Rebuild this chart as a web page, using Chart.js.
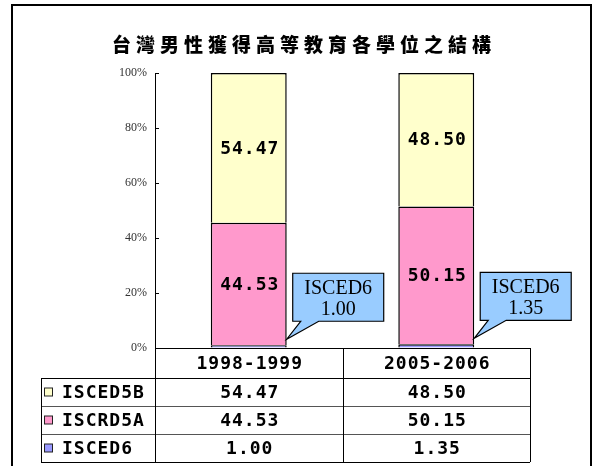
<!DOCTYPE html>
<html>
<head>
<meta charset="utf-8">
<script src="https://cdn.jsdelivr.net/npm/chart.js@4"></script>
<style>
  html, body { margin: 0; padding: 0; background: #fff; }
  #wrap { width: 596px; height: 466px; position: relative; }
</style>
</head>
<body>
<div id="wrap"><canvas id="c" width="596" height="466"></canvas></div>
<script>
// data
const titleText = '台灣男性獲得高等教育各學位之結構';
const categories = ['1998-1999', '2005-2006'];
const isced6 = [1.00, 1.35];
const iscrd5a = [44.53, 50.15];
const isced5b = [54.47, 48.50];
const seriesNames = ['ISCED6', 'ISCRD5A', 'ISCED5B'];
const seriesColors = ['#9999FF', '#FF99CC', '#FFFFCC'];
const calloutLabel = 'ISCED6';

const MONO = 'bold 18px "DejaVu Sans Mono"';

// frame, title, inner ticks
const decorPlugin = {
  id: 'decor',
  afterDraw(chart) {
    const ctx = chart.ctx;
    const y = chart.scales.y;
    ctx.save();
    // frame
    ctx.strokeStyle = '#000';
    ctx.lineWidth = 2;
    ctx.beginPath();
    ctx.moveTo(12, 470);
    ctx.lineTo(12, 5);
    ctx.lineTo(591, 5);
    ctx.lineTo(591, 470);
    ctx.stroke();
    // title
    ctx.fillStyle = '#000';
    ctx.font = '900 19px "Noto Sans CJK TC"';
    ctx.letterSpacing = '5px';
    ctx.textAlign = 'left';
    ctx.textBaseline = 'middle';
    ctx.fillText(titleText, 112, 45);
    ctx.letterSpacing = '0px';
    // inward tick marks
    ctx.lineWidth = 1;
    y.ticks.forEach(t => {
      const py = Math.round(y.getPixelForValue(t.value)) + 0.5;
      ctx.beginPath();
      ctx.moveTo(y.right, py);
      ctx.lineTo(y.right + 4, py);
      ctx.stroke();
    });
    ctx.restore();
  }
};

// value labels in bars and ISCED6 callouts
const labelPlugin = {
  id: 'labels',
  afterDatasetsDraw(chart) {
    const ctx = chart.ctx;
    ctx.save();
    ctx.textAlign = 'center';
    ctx.textBaseline = 'middle';
    ctx.fillStyle = '#000';
    ctx.font = MONO;
    ctx.letterSpacing = '1px';
    [1, 2].forEach(di => {
      const ds = chart.data.datasets[di];
      chart.getDatasetMeta(di).data.forEach((bar, i) => {
        ctx.fillText(ds.data[i].toFixed(2), bar.x + 1, (bar.y + bar.base) / 2 + 1);
      });
    });
    ctx.letterSpacing = '0px';
    // callouts for the thin ISCED6 segment
    const ds0 = chart.data.datasets[0];
    chart.getDatasetMeta(0).data.forEach((bar, i) => {
      const tipX = bar.x + bar.width / 2;
      const tipY = bar.y - 6;
      const L = tipX + 6, W = 91, H = 48;
      const B = tipY - 18, T = B - H, R = L + W;
      ctx.beginPath();
      ctx.moveTo(L, T);
      ctx.lineTo(R, T);
      ctx.lineTo(R, B);
      ctx.lineTo(L + 26, B);
      ctx.lineTo(tipX, tipY);
      ctx.lineTo(L + 8, B);
      ctx.lineTo(L, B);
      ctx.closePath();
      ctx.fillStyle = '#99CCFF';
      ctx.fill();
      ctx.strokeStyle = '#000';
      ctx.lineWidth = 1.2;
      ctx.stroke();
      ctx.fillStyle = '#000';
      ctx.font = '20px "Liberation Serif"';
      ctx.fillText(calloutLabel, L + W / 2, T + 15);
      ctx.fillText(ds0.data[i].toFixed(2), L + W / 2, T + 36);
    });
    ctx.restore();
  }
};

// data table under the plot
const tablePlugin = {
  id: 'table',
  afterDraw(chart) {
    const ctx = chart.ctx;
    const area = chart.chartArea;
    const x = chart.scales.x;
    const top = area.bottom;
    const headH = 30, rowH = 28;
    const legL = 41;
    const rowsTop = top + headH;
    const bottom = rowsTop + rowH * 3;
    const colEdges = [area.left];
    categories.forEach((c, i) => {
      colEdges.push(i < categories.length - 1
        ? (x.getPixelForValue(i) + x.getPixelForValue(i + 1)) / 2
        : area.right);
    });
    ctx.save();
    ctx.lineWidth = 1;
    // inner row lines
    ctx.strokeStyle = '#555';
    for (let r = 1; r < 3; r++) {
      const py = Math.round(rowsTop + r * rowH) + 0.5;
      ctx.beginPath();
      ctx.moveTo(legL, py);
      ctx.lineTo(area.right, py);
      ctx.stroke();
    }
    ctx.strokeStyle = '#000';
    const hl = (x1, x2, yy) => {
      const py = Math.round(yy) + 0.5;
      ctx.beginPath(); ctx.moveTo(x1, py); ctx.lineTo(x2, py); ctx.stroke();
    };
    const vl = (xx, y1, y2) => {
      const px = Math.round(xx) + 0.5;
      ctx.beginPath(); ctx.moveTo(px, y1); ctx.lineTo(px, y2); ctx.stroke();
    };
    hl(area.left, area.right, top);
    hl(legL, area.right, rowsTop);
    hl(legL, area.right, bottom);
    colEdges.forEach(cx => vl(cx, top, bottom));
    vl(legL, rowsTop, bottom);

    ctx.fillStyle = '#000';
    ctx.font = MONO;
    ctx.letterSpacing = '1px';
    ctx.textBaseline = 'middle';
    ctx.textAlign = 'center';
    categories.forEach((c, i) => {
      ctx.fillText(c, x.getPixelForValue(i) + 1, top + headH / 2 + 1);
    });
    // rows top to bottom: reverse of stack order
    const order = [2, 1, 0];
    order.forEach((di, r) => {
      const ds = chart.data.datasets[di];
      const cy = rowsTop + r * rowH + rowH / 2 + 1;
      ctx.fillStyle = ds.backgroundColor;
      ctx.fillRect(44.5, cy - 5, 8, 8);
      ctx.strokeStyle = '#222';
      ctx.strokeRect(44.5, cy - 5, 8, 8);
      ctx.fillStyle = '#000';
      ctx.textAlign = 'left';
      ctx.fillText(ds.label, 62, cy);
      ctx.textAlign = 'center';
      ds.data.forEach((v, i) => {
        ctx.fillText(v.toFixed(2), x.getPixelForValue(i) + 1, cy);
      });
    });
    ctx.restore();
  }
};

const seriesData = [isced6, iscrd5a, isced5b];

new Chart(document.getElementById('c'), {
  type: 'bar',
  data: {
    labels: categories,
    datasets: seriesNames.map((name, k) => ({
      label: name,
      data: seriesData[k],
      backgroundColor: seriesColors[k],
      borderColor: '#000',
      borderWidth: 1.5,
      categoryPercentage: 1,
      barPercentage: 0.405
    }))
  },
  options: {
    responsive: false,
    animation: false,
    layout: { padding: { top: 73, left: 0, right: 66, bottom: 118 } },
    plugins: {
      legend: { display: false },
      title: { display: false },
      tooltip: { enabled: false }
    },
    scales: {
      x: { stacked: true, display: false },
      y: {
        stacked: true,
        min: 0,
        max: 100,
        afterFit(scale) { scale.width = 155; },
        border: { display: true, color: '#000', width: 1 },
        grid: { drawOnChartArea: false, drawTicks: false },
        ticks: {
          stepSize: 20,
          padding: 8,
          color: '#333',
          font: { family: '"Liberation Serif"', size: 12 },
          callback: v => v + '%'
        }
      }
    }
  },
  plugins: [decorPlugin, labelPlugin, tablePlugin]
});
</script>
</body>
</html>
